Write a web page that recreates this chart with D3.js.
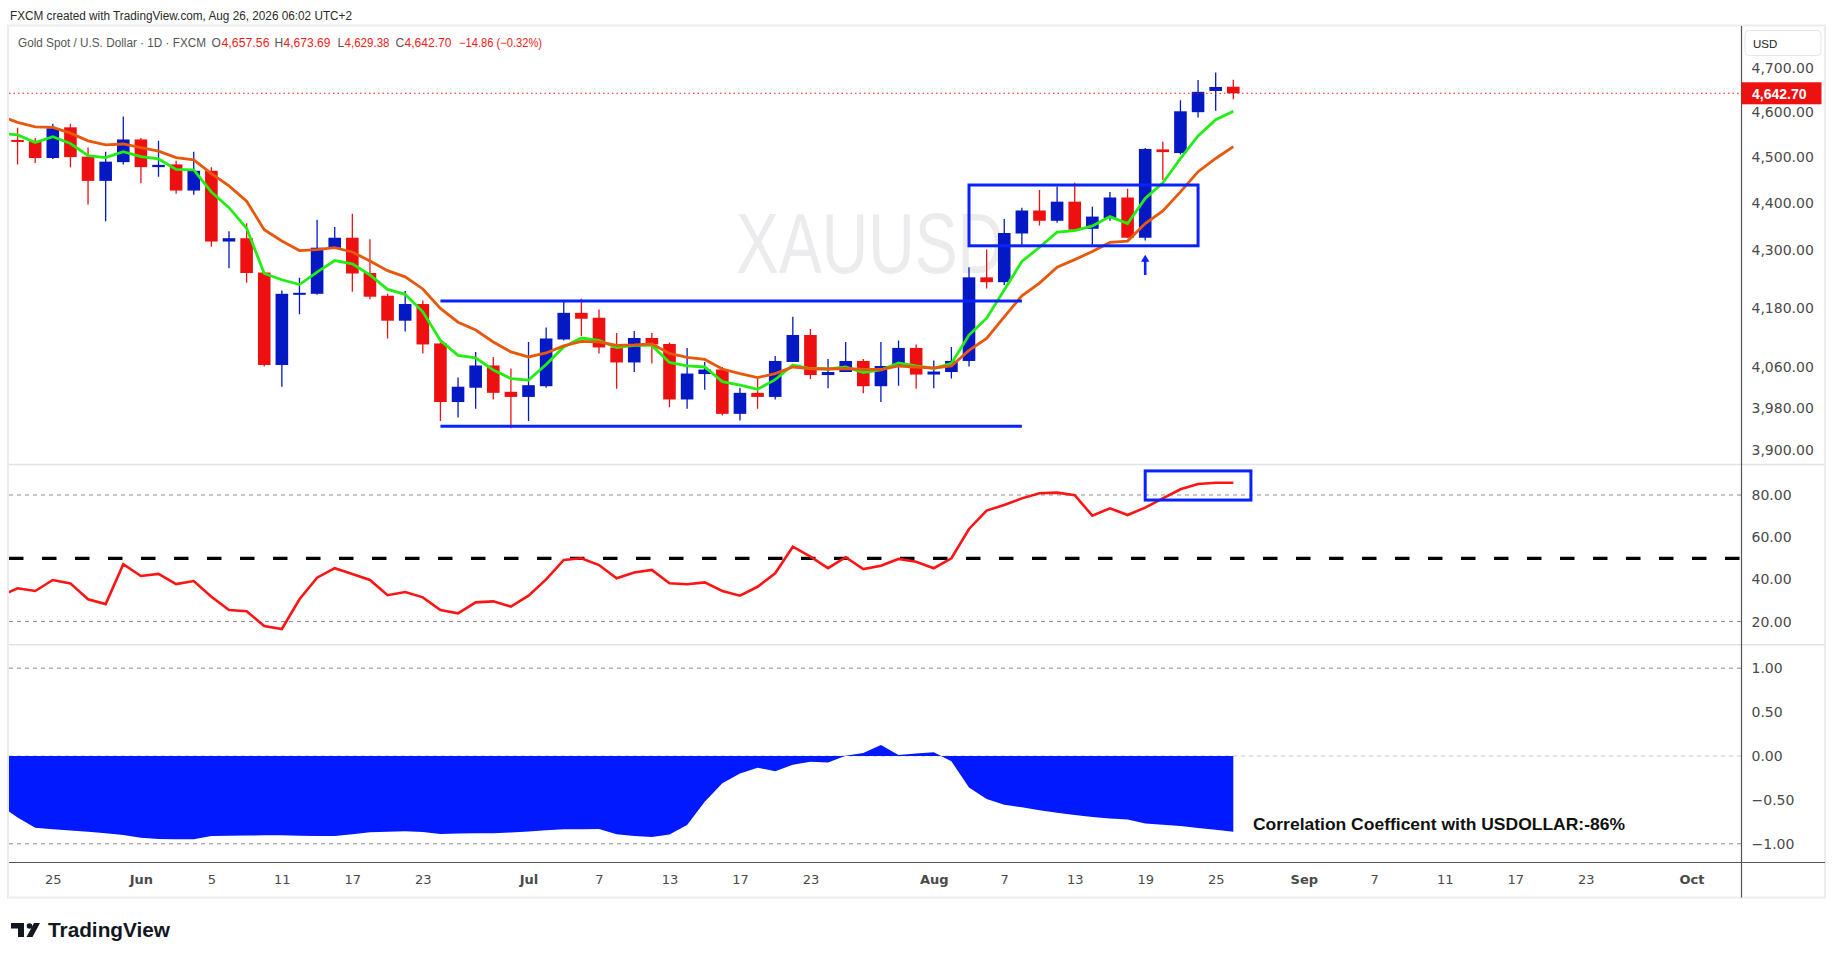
<!DOCTYPE html>
<html>
<head>
<meta charset="utf-8">
<script src="https://cdn.jsdelivr.net/npm/d3@7"></script>
<style>
body{margin:0;background:#fff;}
svg{display:block;}
text{font-family:"Liberation Sans",Arial,sans-serif;}
.axis text{font-family:"DejaVu Sans",sans-serif;fill:#4a4a4a;}
</style>
</head>
<body>
<svg id="chart" width="1835" height="959"></svg>
<script>
// daily candles, first one on May 21 2026
var candleStart = "2026-05-21"
var openP = [4538,4536,4498,4566,4501,4448,4489,4539,4478,4484,4427,4470,4318,4325,4253,4065,4208,4209,4305,4326,
  4252,4205,4154,4188,4108,3992,4020,4064,4012,4002,4023,4116,4170,4160,4100,4070,4119,4107,3997,4047,
  4056,3969,4010,4002,4071,4125,4045,4051,4073,4023,4063,4099,4046,4051,4073,4243,4233,4335,4384,4362,
  4403,4345,4368,4412,4326,4517,4509,4600,4648,4657.56]
var highP = [4565,4542,4574,4574,4521,4512,4590,4542,4536,4492,4512,4478,4340,4357,4254,4216,4242,4364,4349,4377,
  4323,4209,4215,4195,4110,4040,4091,4081,4058,4111,4140,4195,4199,4177,4129,4133,4129,4110,4099,4071,
  4061,4020,4039,4083,4162,4137,4077,4111,4077,4111,4114,4106,4074,4101,4264,4301,4366,4390,4428,4436,
  4444,4392,4424,4431,4520,4534,4627,4673,4690,4673.69]
var lowP = [4484,4487,4496,4478,4397,4361,4484,4443,4457,4420,4418,4307,4262,4232,4062,4022,4167,4207,4303,4213,
  4198,4118,4132,4088,3955,3962,3979,3997,3941,3955,4020,4114,4123,4088,4018,4051,4068,3982,3979,4016,
  3966,3956,3979,3997,4071,4037,4019,4051,4009,3992,4024,4018,4019,4038,4062,4220,4227,4311,4352,4358,
  4343,4311,4362,4326,4320,4450,4506,4588,4603,4629.38]
var closeP = [4535,4498,4564,4500,4448,4490,4539,4478,4483,4427,4470,4318,4325,4252,4065,4209,4211,4305,4326,4251,
  4203,4154,4188,4106,3992,4022,4064,4010,4002,4025,4118,4170,4158,4100,4070,4119,4106,3997,4048,4056,
  3969,4010,4002,4073,4125,4045,4051,4073,4023,4063,4099,4046,4052,4073,4243,4233,4336,4384,4362,4403,
  4343,4371,4412,4326,4518,4511,4602,4646,4657,4642.70]

// indicator series, first value on May 20 2026
var lineStart = "2026-05-20"
var fastMA = [4553,4549,4532,4545,4530,4503,4499,4512,4501,4496,4473,4472,4424,4390,4346,4251,4238,4228,4254,4278,
  4271,4248,4218,4208,4172,4114,4084,4079,4055,4038,4035,4066,4101,4119,4114,4100,4104,4104,4070,4063,
  4061,4032,4025,4017,4036,4065,4058,4057,4061,4050,4055,4069,4063,4058,4068,4125,4159,4217,4276,4306,
  4338,4341,4351,4371,4356,4410,4444,4497,4547,4583,4602]
var slowMA = [4592,4577,4567,4566,4553,4536,4527,4529,4521,4513,4499,4494,4464,4437,4404,4343,4319,4299,4301,4305,
  4296,4277,4257,4244,4219,4179,4151,4135,4111,4091,4081,4089,4103,4112,4111,4104,4105,4107,4088,4080,
  4076,4057,4048,4040,4048,4061,4058,4057,4058,4056,4056,4063,4061,4059,4063,4094,4118,4162,4205,4231,
  4264,4280,4297,4316,4319,4356,4383,4424,4468,4497,4523]
var rsiVals = [32,35.8,34.5,39.7,38.1,30.6,28.3,47.2,41.6,42.6,37.8,39.2,31.8,25.5,24.9,17.9,16.5,30.6,40.8,45.3,
  42.6,39.7,32.5,34.0,31.5,25.5,23.9,29.1,29.6,27.1,32.3,40.0,49.2,50.0,46.8,40.5,43.3,44.5,38.2,37.7,
  38.6,34.5,32.3,36.5,42.9,55.5,50.8,45.3,50.5,44.9,46.5,49.7,48.4,45.3,50.0,63.9,72.6,75.3,78.4,80.8,
  81.1,79.9,70.2,73.7,70.5,74.0,78.4,82.7,85.2,85.8,85.8]
var corrVals = [-0.56,-0.70,-0.816,-0.835,-0.85,-0.864,-0.88,-0.90,-0.93,-0.945,-0.949,-0.949,-0.911,-0.909,-0.906,-0.904,-0.904,-0.907,-0.91,-0.91,
  -0.89,-0.868,-0.862,-0.857,-0.865,-0.888,-0.884,-0.881,-0.88,-0.87,-0.859,-0.847,-0.835,-0.833,-0.831,-0.89,-0.91,-0.922,-0.893,-0.785,
  -0.52,-0.31,-0.20,-0.133,-0.175,-0.10,-0.065,-0.075,0.003,0.035,0.125,0.012,0.028,0.042,-0.06,-0.36,-0.49,-0.556,-0.585,-0.617,
  -0.647,-0.673,-0.694,-0.712,-0.724,-0.768,-0.782,-0.797,-0.819,-0.84,-0.862]

// drawn levels
var rangeLines = [{from:"2026-06-24", to:"2026-08-10", price:4194}, {from:"2026-06-24", to:"2026-08-10", price:3945}]
var priceBox = {from:"2026-08-05", to:"2026-08-24", top:4439, bottom:4309}
var arrowMark = {day:"2026-08-19", top:4290, bottom:4248}
var rsiBox = {from:"2026-08-19", to:"2026-08-27", top:91.4, bottom:77.6}

// axes
var priceTicks = [3900,3980,4060,4180,4300,4400,4500,4600,4700]
var rsiTicks = [20,40,60,80]
var corrTicks = [-1,-0.5,0,0.5,1]
var xTickDates = ["2026-05-25","2026-06-01","2026-06-05","2026-06-11","2026-06-17","2026-06-23","2026-07-01","2026-07-07",
  "2026-07-13","2026-07-17","2026-07-23","2026-08-03","2026-08-07","2026-08-13","2026-08-19","2026-08-25",
  "2026-09-01","2026-09-07","2026-09-11","2026-09-17","2026-09-23","2026-10-01"]
var xTickLabels = ["25","Jun","5","11","17","23","Jul","7","13","17","23","Aug","7","13","19","25","Sep","7","11","17","23","Oct"]
var monthNames = ["Jun","Jul","Aug","Sep","Oct"]

var svg = d3.select("#chart")
var left = 9, axisX = 1741.5, rightEdge = 1825
var priceTop = 26, priceBottom = 464.6, rsiBottom = 644.8, corrBottom = 862.5, frameBottom = 897.5

// trading calendar (weekdays)
var fmt = d3.timeFormat("%Y-%m-%d")
var days = d3.timeDay.range(new Date(2026,4,18), new Date(2026,9,6)).filter(function(d){return d.getDay()!=0 && d.getDay()!=6})
var dayIndex = new Map(days.map(function(d,i){return [fmt(d), i]}))

var x = d3.scaleLinear().domain([dayIndex.get("2026-05-25"), dayIndex.get("2026-08-26")]).range([52.8, 1233.3])
var yP = d3.scaleLog().domain([3900, 4700]).range([449.7, 68.2])
var yR = d3.scaleLinear().domain([9, 94.4]).range([rsiBottom, priceBottom])
var yC = d3.scaleLinear().domain([-1.213, 1.266]).range([corrBottom, rsiBottom])
var xd = function(s){return x(dayIndex.get(s))}
var c0 = dayIndex.get(candleStart), l0 = dayIndex.get(lineStart)

// clips
var defs = svg.append("defs")
function clip(id, y0, y1){
	defs.append("clipPath").attr("id", id).append("rect")
		.attr("x", left).attr("y", y0).attr("width", axisX-left).attr("height", y1-y0)
}
clip("cp", priceTop, priceBottom)
clip("cr", priceBottom, rsiBottom)
clip("cc", rsiBottom, corrBottom)

// header
svg.append("text").attr("x", 10).attr("y", 19.5).attr("font-size", 12).attr("fill", "#2a2a2a")
	.attr("textLength", 342).attr("lengthAdjust", "spacingAndGlyphs")
	.text("FXCM created with TradingView.com, Aug 26, 2026 06:02 UTC+2")
var hdr = [["Gold Spot / U.S. Dollar \u00b7 1D \u00b7 FXCM", 18, "#555", 188], ["O", 211.5, "#555", 0], ["4,657.56", 221.5, "#ef2020", 48],
	["H", 274.5, "#555", 0], ["4,673.69", 283.5, "#ef2020", 47], ["L", 337.5, "#555", 0], ["4,629.38", 344.5, "#ef2020", 45],
	["C", 395.5, "#555", 0], ["4,642.70", 404.5, "#ef2020", 47], ["\u221214.86 (\u22120.32%)", 459, "#ef2020", 83]]
svg.append("g").selectAll("text").data(hdr).enter().append("text")
	.attr("x", function(d){return d[1]}).attr("y", 47).attr("font-size", 12)
	.attr("fill", function(d){return d[2]})
	.attr("textLength", function(d){return d[3] || null}).attr("lengthAdjust", "spacingAndGlyphs")
	.text(function(d){return d[0]})

// frame
svg.append("rect").attr("x", 8).attr("y", 25.5).attr("width", rightEdge-8).attr("height", frameBottom-25.5)
	.attr("fill", "none").attr("stroke", "#ececf0").attr("stroke-width", 2)

// price pane
var gp = svg.append("g").attr("clip-path", "url(#cp)")
gp.append("text").attr("x", 870).attr("y", 272.5).attr("text-anchor", "middle")
	.attr("font-size", 85).attr("fill", "#ececef").attr("textLength", 268).attr("lengthAdjust", "spacingAndGlyphs")
	.text("XAUUSD")

var cdata = openP.map(function(o,i){return {i:c0+i, o:o, h:highP[i], l:lowP[i], c:closeP[i]}})
var blue = "#0418c4", red = "#ee1010"
var cg = gp.selectAll(".candle").data(cdata).enter().append("g").attr("class", "candle")
cg.append("line")
	.attr("x1", function(d){return x(d.i)}).attr("x2", function(d){return x(d.i)})
	.attr("y1", function(d){return yP(d.h)}).attr("y2", function(d){return yP(d.l)})
	.attr("stroke", function(d){return d.c >= d.o ? blue : red}).attr("stroke-width", 1.3)
cg.append("rect")
	.attr("x", function(d){return x(d.i)-6.3}).attr("width", 12.6)
	.attr("y", function(d){return yP(Math.max(d.o, d.c))})
	.attr("height", function(d){return Math.max(2, Math.abs(yP(d.o)-yP(d.c)))})
	.attr("fill", function(d){return d.c >= d.o ? blue : red})

var maLine = d3.line().x(function(d,i){return x(l0+i)}).y(function(d){return yP(d)})
gp.append("path").attr("d", maLine(fastMA)).attr("fill", "none").attr("stroke", "#22ee11").attr("stroke-width", 2.8)
gp.append("path").attr("d", maLine(slowMA)).attr("fill", "none").attr("stroke", "#e8580c").attr("stroke-width", 2.8)

var annBlue = "#0a22ff"
gp.selectAll(".lvl").data(rangeLines).enter().append("line").attr("class", "lvl")
	.attr("x1", function(d){return xd(d.from)}).attr("x2", function(d){return xd(d.to)})
	.attr("y1", function(d){return yP(d.price)}).attr("y2", function(d){return yP(d.price)})
	.attr("stroke", annBlue).attr("stroke-width", 3)
gp.append("rect").attr("x", xd(priceBox.from)).attr("width", xd(priceBox.to)-xd(priceBox.from))
	.attr("y", yP(priceBox.top)).attr("height", yP(priceBox.bottom)-yP(priceBox.top))
	.attr("fill", "none").attr("stroke", annBlue).attr("stroke-width", 3)
var ax = xd(arrowMark.day), at = yP(arrowMark.top), ab = yP(arrowMark.bottom)
gp.append("line").attr("x1", ax).attr("x2", ax).attr("y1", at+5).attr("y2", ab).attr("stroke", annBlue).attr("stroke-width", 2.6)
gp.append("path").attr("d", "M"+(ax-4.2)+","+(at+7)+"L"+ax+","+at+"L"+(ax+4.2)+","+(at+7)+"Z").attr("fill", annBlue)

// last price line
var last = closeP[closeP.length-1]
svg.append("line").attr("x1", left).attr("x2", axisX).attr("y1", yP(last)).attr("y2", yP(last))
	.attr("stroke", "#ee1111").attr("stroke-width", 1).attr("stroke-dasharray", "1.5 3")

// rsi pane
var gr = svg.append("g").attr("clip-path", "url(#cr)")
gr.selectAll(".rg").data([80, 20]).enter().append("line")
	.attr("x1", left).attr("x2", axisX).attr("y1", function(d){return yR(d)}).attr("y2", function(d){return yR(d)})
	.attr("stroke", "#8a8a8a").attr("stroke-width", 1).attr("stroke-dasharray", "4 4")
gr.append("line").attr("x1", left).attr("x2", axisX).attr("y1", yR(50)).attr("y2", yR(50))
	.attr("stroke", "#000").attr("stroke-width", 3.2).attr("stroke-dasharray", "14.5 18.5")
var rsiLine = d3.line().x(function(d,i){return x(l0+i)}).y(function(d){return yR(d)})
gr.append("path").attr("d", rsiLine(rsiVals)).attr("fill", "none").attr("stroke", "#ff1414").attr("stroke-width", 2.6)
gr.append("rect").attr("x", xd(rsiBox.from)).attr("width", xd(rsiBox.to)-xd(rsiBox.from))
	.attr("y", yR(rsiBox.top)).attr("height", yR(rsiBox.bottom)-yR(rsiBox.top))
	.attr("fill", "none").attr("stroke", annBlue).attr("stroke-width", 3)

// correlation pane
var gc = svg.append("g").attr("clip-path", "url(#cc)")
gc.selectAll(".cg").data(corrTicks.filter(function(d){return d==1 || d==-1 || d==0})).enter().append("line")
	.attr("x1", left).attr("x2", axisX).attr("y1", function(d){return yC(d)}).attr("y2", function(d){return yC(d)})
	.attr("stroke", function(d){return d==0 ? "#c4c4c4" : "#8a8a8a"}).attr("stroke-width", 1).attr("stroke-dasharray", "4 4")
var corrArea = d3.area().x(function(d,i){return x(l0+i)}).y0(yC(0)).y1(function(d){return yC(d)})
gc.append("path").attr("d", corrArea(corrVals)).attr("fill", "#0019ff")
svg.append("text").attr("x", 1253).attr("y", 830).attr("font-size", 16.5).attr("font-weight", "bold").attr("fill", "#111")
	.attr("textLength", 372).attr("lengthAdjust", "spacingAndGlyphs")
	.text("Correlation Coefficent with USDOLLAR:" + Math.round(corrVals[corrVals.length-1]*100) + "%")

// separators and axis lines
svg.selectAll(".sep").data([priceBottom, rsiBottom]).enter().append("line")
	.attr("x1", left).attr("x2", rightEdge).attr("y1", function(d){return d}).attr("y2", function(d){return d})
	.attr("stroke", "#e0e3eb").attr("stroke-width", 1.5)
svg.append("line").attr("x1", left).attr("x2", rightEdge).attr("y1", corrBottom).attr("y2", corrBottom)
	.attr("stroke", "#555").attr("stroke-width", 1.2)
svg.append("line").attr("x1", axisX).attr("x2", axisX).attr("y1", priceTop).attr("y2", frameBottom)
	.attr("stroke", "#555").attr("stroke-width", 1.2)

// right axes
function rightAxis(scale, ticks, f){
	var g = svg.append("g").attr("class", "axis").attr("transform", "translate(" + axisX + ",0)")
		.call(d3.axisRight(scale).tickValues(ticks).tickSize(0).tickPadding(10).tickFormat(f))
	g.select(".domain").remove()
	g.selectAll("text").attr("font-size", 14)
	return g
}
rightAxis(yP, priceTicks, d3.format(",.2f"))
rightAxis(yR, rsiTicks, d3.format(".2f"))
rightAxis(yC, corrTicks, d3.format(".2f"))

// last price tag
svg.append("rect").attr("x", axisX).attr("y", yP(last)-11).attr("width", 80).attr("height", 22).attr("fill", "#ee1111")
svg.append("text").attr("x", axisX+10.5).attr("y", yP(last)+5.5).attr("font-family", "DejaVu Sans")
	.attr("font-size", 14).attr("font-weight", "bold").attr("fill", "#fff").text(d3.format(",.2f")(last))

// currency box
svg.append("rect").attr("x", 1745).attr("y", 30.5).attr("width", 76).attr("height", 25).attr("rx", 4)
	.attr("fill", "#fff").attr("stroke", "#e6e6ea")
svg.append("text").attr("x", 1753).attr("y", 47.5).attr("font-size", 11.5).attr("fill", "#222").text("USD")

// time axis
var gx = svg.append("g").attr("class", "axis").attr("transform", "translate(0," + corrBottom + ")")
	.call(d3.axisBottom(x).tickValues(xTickDates.map(function(s){return dayIndex.get(s)})).tickSize(0).tickPadding(12)
		.tickFormat(function(d,i){return xTickLabels[i]}))
gx.select(".domain").remove()
gx.selectAll("text").attr("font-size", 13)
	.attr("font-weight", function(d,i){return monthNames.indexOf(xTickLabels[i]) >= 0 ? "bold" : "normal"})

// logo
var logo = svg.append("g").attr("fill", "#131722")
logo.append("rect").attr("x", 11).attr("y", 923).attr("width", 13).attr("height", 5.5)
logo.append("rect").attr("x", 18).attr("y", 923).attr("width", 6).attr("height", 14)
logo.append("circle").attr("cx", 29.5).attr("cy", 926).attr("r", 2.8)
logo.append("path").attr("d", "M26.5,937L32.5,937L40,923L34,923Z")
logo.append("text").attr("x", 48).attr("y", 936.5).attr("font-size", 19.5).attr("font-weight", "bold")
	.attr("textLength", 122).attr("lengthAdjust", "spacingAndGlyphs").text("TradingView")
</script>
</body>
</html>
